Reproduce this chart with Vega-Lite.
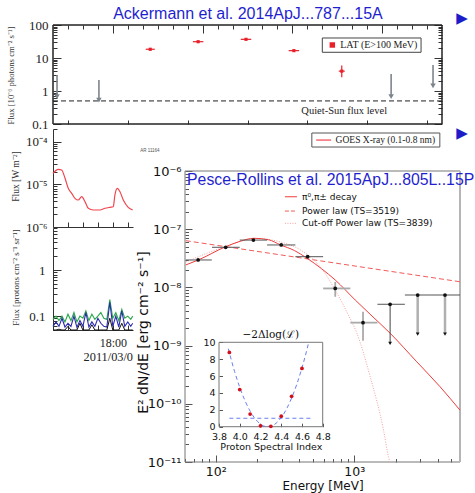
{
"$schema":"https://vega.github.io/schema/vega-lite/v6.json",
"width":475,"height":493,"autosize":"none","padding":0,"background":"white",
"config":{"view":{"stroke":null},"axis":{"grid":false,"labelFlush":false,"labelOverlap":false,"titleFontWeight":"normal"}},
"datasets":{
"one":[{}],
"lat":[{"x":20.5,"y":18.4,"xlo":20.2,"xhi":20.8,"ylo":17,"yhi":20},{"x":23.7,"y":31.2,"xlo":23.35,"xhi":24.05,"ylo":29.5,"yhi":33},{"x":26.9,"y":36.8,"xlo":26.55,"xhi":27.25,"ylo":35,"yhi":38.8},{"x":30.1,"y":16.7,"xlo":29.75,"xhi":30.45,"ylo":15.4,"yhi":18.2},{"x":33.3,"y":4.0,"xlo":33.1,"xhi":33.5,"ylo":2.6,"yhi":5.9}],
"lat_ul":[{"x":14.27,"top":3.05,"bot":0.67},{"x":17.07,"top":2.15,"bot":0.53},{"x":36.6,"top":3.3,"bot":0.67},{"x":39.4,"top":6.1,"bot":1.42}],
"goes":[{"h":14.0,"f":1.82e-5},{"h":14.35,"f":2.26e-5},{"h":14.58,"f":2.18e-5},{"h":14.8,"f":1.41e-5},{"h":15.02,"f":8.1e-6},{"h":15.25,"f":6.18e-6},{"h":15.47,"f":4.72e-6},{"h":15.69,"f":4.31e-6},{"h":15.92,"f":5.15e-6},{"h":16.14,"f":3.93e-6},{"h":16.36,"f":2.75e-6},{"h":16.69,"f":2.51e-6},{"h":17.14,"f":2.51e-6},{"h":17.48,"f":2.75e-6},{"h":17.81,"f":2.9e-6},{"h":18.03,"f":2.99e-6},{"h":18.14,"f":5.64e-6},{"h":18.3,"f":8.09e-6},{"h":18.48,"f":6.74e-6},{"h":18.7,"f":4.31e-6},{"h":19.03,"f":2.9e-6},{"h":19.33,"f":2.51e-6}],
"prot":[{"h":14.0,"g":0.085,"b":0.06,"k":0.05},{"h":14.2,"g":0.1,"b":0.075,"k":0.05},{"h":14.4,"g":0.08,"b":0.06,"k":0.052},{"h":14.6,"g":0.1,"b":0.09,"k":0.05},{"h":14.8,"g":0.075,"b":0.058,"k":0.05},{"h":15.0,"g":0.11,"b":0.07,"k":0.06},{"h":15.2,"g":0.08,"b":0.06,"k":0.05},{"h":15.4,"g":0.12,"b":0.1,"k":0.05},{"h":15.6,"g":0.075,"b":0.057,"k":0.05},{"h":15.8,"g":0.1,"b":0.08,"k":0.07},{"h":16.0,"g":0.09,"b":0.06,"k":0.05},{"h":16.2,"g":0.13,"b":0.12,"k":0.05},{"h":16.4,"g":0.08,"b":0.058,"k":0.05},{"h":16.6,"g":0.11,"b":0.075,"k":0.065},{"h":16.8,"g":0.085,"b":0.06,"k":0.05},{"h":17.0,"g":0.1,"b":0.09,"k":0.05},{"h":17.2,"g":0.12,"b":0.07,"k":0.05},{"h":17.4,"g":0.09,"b":0.06,"k":0.05},{"h":17.6,"g":0.085,"b":0.058,"k":0.05},{"h":17.8,"g":0.23,"b":0.2,"k":0.09},{"h":18.0,"g":0.09,"b":0.06,"k":0.05},{"h":18.2,"g":0.12,"b":0.1,"k":0.05},{"h":18.4,"g":0.08,"b":0.058,"k":0.05},{"h":18.6,"g":0.14,"b":0.13,"k":0.07},{"h":18.8,"g":0.09,"b":0.06,"k":0.05},{"h":19.0,"g":0.1,"b":0.075,"k":0.05},{"h":19.2,"g":0.085,"b":0.06,"k":0.05},{"h":19.33,"g":0.1,"b":0.07,"k":0.05}],
"det":[{"E":74.6,"F":2.96e-8,"Elo":60.8,"Ehi":93.7},{"E":118,"F":4.89e-8,"Elo":94,"Ehi":149},{"E":187,"F":6.5e-8,"Elo":149,"Ehi":235},{"E":297,"F":5.36e-8,"Elo":235,"Ehi":376},{"E":461,"F":3.37e-8,"Elo":376,"Ehi":596}],
"weak":[{"E":729,"F":9.6e-9,"Elo":596,"Ehi":937,"Flo":6.9e-9,"Fhi":1.24e-8},{"E":1157,"F":2.48e-9,"Elo":937,"Ehi":1470,"Flo":1.21e-9,"Fhi":3.82e-9}],
"ul8":[{"E":1815,"F":5.13e-9,"Elo":1470,"Ehi":2320,"Fl":1.09e-9}],
"ul":[{"E":2870,"F":7.4e-9,"Elo":2320,"Ehi":3640,"Fl":1.58e-9},{"E":4520,"F":7.4e-9,"Elo":3640,"Ehi":5800,"Fl":1.58e-9}],
"pi":[{"E":60.8,"F":2.43e-8},{"E":74.6,"F":2.95e-8},{"E":118,"F":5.0e-8},{"E":150,"F":6.2e-8},{"E":189,"F":6.98e-8},{"E":240,"F":6.6e-8},{"E":294,"F":5.36e-8},{"E":370,"F":4.3e-8},{"E":457,"F":3.16e-8},{"E":580,"F":2.1e-8},{"E":729,"F":1.34e-8},{"E":1016,"F":6.08e-9},{"E":1300,"F":3.47e-9},{"E":1816,"F":1.63e-9},{"E":2825,"F":5.28e-10},{"E":4159,"F":1.97e-10},{"E":5794,"F":7.8e-11}],
"pl":[{"E":60.8,"F":6.35e-8},{"E":5800,"F":1.25e-8}],
"cpl":[{"E":60.8,"F":2.73e-8},{"E":118,"F":5.05e-8},{"E":194,"F":6.92e-8},{"E":294,"F":6.03e-8},{"E":409,"F":4.4e-8},{"E":569,"F":2.24e-8},{"E":752,"F":7.9e-9},{"E":906,"F":3.36e-9},{"E":1045,"F":1.63e-9},{"E":1303,"F":2.92e-10},{"E":1626,"F":3.55e-11},{"E":1766,"F":1.23e-11},{"E":1806,"F":1e-11}],
"lik":[{"p":3.9,"v":8.8},{"p":4.0,"v":4.4},{"p":4.1,"v":1.5},{"p":4.2,"v":0.1},{"p":4.3,"v":0.05},{"p":4.4,"v":1.25},{"p":4.5,"v":3.6},{"p":4.6,"v":6.9}],
"par":[{"p":3.89,"v":9.24},{"p":3.95,"v":6.55},{"p":4.0,"v":4.67},{"p":4.05,"v":3.1},{"p":4.1,"v":1.85},{"p":4.15,"v":0.92},{"p":4.2,"v":0.31},{"p":4.25,"v":0.03},{"p":4.3,"v":0.06},{"p":4.35,"v":0.41},{"p":4.4,"v":1.08},{"p":4.45,"v":2.07},{"p":4.5,"v":3.39},{"p":4.55,"v":5.02},{"p":4.6,"v":6.97},{"p":4.65,"v":9.24},{"p":4.665,"v":10.0}]
},
"resolve":{"scale":{"x":"independent","y":"independent"}},
"layer":[
{"data":{"name":"one"},"layer":[
 {"mark":{"type":"rect","fill":"transparent","stroke":"#222","strokeWidth":1},
  "encoding":{
   "x":{"datum":14,"type":"quantitative","scale":{"domain":[14,40],"range":[53,442],"nice":false,"zero":false},
        "axis":{"orient":"bottom","offset":-369,"values":[15,16,17,18,19,20,21,22,23,24,25,26,27,28,29,30,31,32,33,34,35,36,37,38,39],"labels":false,"domain":false,"tickColor":"#333","tickSize":{"condition":{"test":"datum.value % 6 == 0","value":-8},"value":-4},"title":null}},
   "x2":{"datum":40},
   "y":{"datum":0.1,"type":"quantitative","scale":{"type":"log","domain":[0.1,100],"range":[124,25],"nice":false},
        "axis":{"orient":"left","offset":-53,"values":[0.1,0.2,0.3,0.4,0.5,0.6,0.7,0.8,0.9,1,2,3,4,5,6,7,8,9,10,20,30,40,50,60,70,80,90,100],
        "labelExpr":"datum.value==0.1?'0.1':datum.value==1?'1':datum.value==10?'10':datum.value==100?'100':''",
        "tickSize":{"condition":{"test":"indexof([0.1,1,10,100],datum.value)>=0","value":-8},"value":-4},
        "domain":false,"tickColor":"#333","labelFont":"Liberation Serif","labelFontSize":13,"labelColor":"#222","labelPadding":13,
        "title":"Flux [10⁻⁶ photons cm⁻² s⁻¹]","titleFont":"Liberation Serif","titleFontSize":8.7,"titleColor":"#333","titleX":-43,"titleY":75,"titleBaseline":"middle","titleAlign":"center"}},
   "y2":{"datum":100}}},
 {"mark":{"type":"rule","stroke":"#222","strokeDash":[5,3],"strokeWidth":1},
  "encoding":{"x":{"datum":14,"type":"quantitative"},"x2":{"datum":40},"y":{"datum":0.5,"type":"quantitative"}}},
 {"data":{"name":"lat_ul"},"mark":{"type":"rule","stroke":"#7d858c","strokeWidth":1.6},
  "encoding":{"x":{"field":"x","type":"quantitative"},"y":{"field":"top","type":"quantitative"},"y2":{"field":"bot"}}},
 {"data":{"name":"lat_ul"},"mark":{"type":"point","shape":"triangle-down","filled":true,"color":"#7d858c","size":30,"opacity":1},
  "encoding":{"x":{"field":"x","type":"quantitative"},"y":{"field":"bot","type":"quantitative"}}},
 {"data":{"name":"lat"},"mark":{"type":"rule","stroke":"#e8202a","strokeWidth":1.2},
  "encoding":{"x":{"field":"xlo","type":"quantitative"},"x2":{"field":"xhi"},"y":{"field":"y","type":"quantitative"}}},
 {"data":{"name":"lat"},"mark":{"type":"rule","stroke":"#e8202a","strokeWidth":1.2},
  "encoding":{"x":{"field":"x","type":"quantitative"},"y":{"field":"ylo","type":"quantitative"},"y2":{"field":"yhi"}}},
 {"data":{"name":"lat"},"mark":{"type":"square","color":"#e8202a","size":10,"opacity":1},
  "encoding":{"x":{"field":"x","type":"quantitative"},"y":{"field":"y","type":"quantitative"}}},
 {"mark":{"type":"rect","fill":"white","stroke":"#444","strokeWidth":1},
  "encoding":{"x":{"datum":32.0,"type":"quantitative"},"x2":{"datum":38.6},"y":{"datum":14.9,"type":"quantitative"},"y2":{"datum":40.4}}},
 {"mark":{"type":"square","color":"#e8202a","size":30,"opacity":1},
  "encoding":{"x":{"datum":32.67,"type":"quantitative"},"y":{"datum":24.8,"type":"quantitative"}}},
 {"mark":{"type":"text","text":"LAT (E>100 MeV)","align":"left","baseline":"middle","font":"Liberation Serif","fontSize":10,"color":"#222"},
  "encoding":{"x":{"datum":33.2,"type":"quantitative"},"y":{"datum":24.8,"type":"quantitative"}}},
 {"mark":{"type":"text","text":"Quiet-Sun flux level","align":"left","baseline":"middle","font":"Liberation Serif","fontSize":10.5,"color":"#222"},
  "encoding":{"x":{"datum":30.6,"type":"quantitative"},"y":{"datum":0.25,"type":"quantitative"}}},
 {"mark":{"type":"text","text":"Ackermann et al. 2014ApJ...787...15A","align":"center","baseline":"middle","font":"Liberation Sans","fontSize":16,"color":"#1f1fd0"},
  "encoding":{"x":{"datum":27.03,"type":"quantitative"},"y":{"datum":215,"type":"quantitative"}}},
 {"mark":{"type":"text","text":"▶","align":"center","baseline":"middle","font":"DejaVu Sans","fontSize":15,"color":"#1c1cc8"},
  "encoding":{"x":{"datum":41.34,"type":"quantitative"},"y":{"datum":163,"type":"quantitative"}}},
 {"mark":{"type":"text","text":"▶","align":"center","baseline":"middle","font":"DejaVu Sans","fontSize":15,"color":"#1c1cc8"},
  "encoding":{"x":{"datum":41.34,"type":"quantitative"},"y":{"datum":0.0533,"type":"quantitative"}}}
]},
{"data":{"name":"one"},"layer":[
 {"mark":{"type":"rect","fill":"transparent","stroke":"#222","strokeWidth":1},
  "encoding":{
   "x":{"datum":14,"type":"quantitative","scale":{"domain":[14,40],"range":[53,442],"nice":false,"zero":false},
        "axis":{"orient":"top","offset":-25,"values":[15,16,17,18,19,20,21,22,23,24,25,26,27,28,29,30,31,32,33,34,35,36,37,38,39],"labels":false,"domain":false,"tickColor":"#333","tickSize":{"condition":{"test":"datum.value % 6 == 0","value":-8},"value":-4},"title":null}},
   "x2":{"datum":40},
   "y":{"datum":0.1,"type":"quantitative","scale":{"type":"log","domain":[0.1,100],"range":[124,25],"nice":false},
        "axis":{"orient":"right","offset":-33,"values":[0.1,0.2,0.3,0.4,0.5,0.6,0.7,0.8,0.9,1,2,3,4,5,6,7,8,9,10,20,30,40,50,60,70,80,90,100],"labels":false,
        "tickSize":{"condition":{"test":"indexof([0.1,1,10,100],datum.value)>=0","value":-8},"value":-4},
        "domain":false,"tickColor":"#333","title":null}},
   "y2":{"datum":100}}}
]},
{"data":{"name":"goes"},"layer":[
 {"mark":{"type":"line","stroke":"#f0454f","strokeWidth":1.2,"interpolate":"monotone"},
  "encoding":{
   "x":{"field":"h","type":"quantitative","scale":{"domain":[14,19.35],"range":[53,133],"nice":false,"zero":false},
        "axis":{"orient":"bottom","offset":-266,"values":[15,16,17,18,19],"labels":false,"tickSize":-5,"tickColor":"#333","domainColor":"#333","title":null}},
   "y":{"field":"f","type":"quantitative","scale":{"type":"log","domain":[1e-6,2e-4],"range":[227,129],"nice":false},
        "axis":{"orient":"left","offset":-53,"values":[1e-6,2e-6,3e-6,4e-6,5e-6,6e-6,7e-6,8e-6,9e-6,1e-5,2e-5,3e-5,4e-5,5e-5,6e-5,7e-5,8e-5,9e-5,1e-4,2e-4],
        "labelExpr":"datum.value==1e-6?'10⁻⁶':datum.value==1e-5?'10⁻⁵':datum.value==1e-4?'10⁻⁴':''",
        "tickSize":{"condition":{"test":"indexof([1e-6,1e-5,1e-4],datum.value)>=0","value":-8},"value":-4},
        "domainColor":"#333","tickColor":"#333","labelFont":"Liberation Serif","labelFontSize":13,"labelColor":"#222","labelPadding":14,
        "title":"Flux [W m⁻²]","titleFont":"Liberation Serif","titleFontSize":9.5,"titleColor":"#333","titleX":-38,"titleY":176,"titleBaseline":"middle","titleAlign":"center"}}}},
 {"data":{"name":"one"},"mark":{"type":"rect","fill":"white","stroke":"#555","strokeWidth":1},
  "encoding":{"x":{"datum":31.31,"type":"quantitative"},"x2":{"datum":39.87},"y":{"datum":7.55e-5,"type":"quantitative"},"y2":{"datum":1.61e-4}}},
 {"data":{"name":"one"},"mark":{"type":"rule","stroke":"#f0454f","strokeWidth":1.2},
  "encoding":{"x":{"datum":31.6,"type":"quantitative"},"x2":{"datum":32.6},"y":{"datum":1.1e-4,"type":"quantitative"}}},
 {"data":{"name":"one"},"mark":{"type":"text","text":"GOES X-ray (0.1-0.8 nm)","align":"left","baseline":"middle","font":"Liberation Serif","fontSize":9.5,"color":"#222"},
  "encoding":{"x":{"datum":32.9,"type":"quantitative"},"y":{"datum":1.1e-4,"type":"quantitative"}}},
 {"data":{"name":"one"},"mark":{"type":"text","text":"AR 11164","align":"center","baseline":"middle","font":"Liberation Sans","fontSize":4.5,"color":"#555"},
  "encoding":{"x":{"datum":20.48,"type":"quantitative"},"y":{"datum":6.08e-5,"type":"quantitative"}}}
]},
{"data":{"name":"prot"},"layer":[
 {"mark":{"type":"line","stroke":"#2aa84a","strokeWidth":1.1},
  "encoding":{
   "x":{"field":"h","type":"quantitative","scale":{"domain":[14,19.35],"range":[53,133],"nice":false,"zero":false},
        "axis":{"orient":"bottom","offset":-163,"values":[15,16,17,18,19],"labelExpr":"datum.value==18?'18:00':''","tickSize":-5,"labelPadding":12,"tickColor":"#333","domainColor":"#333","labelFont":"Liberation Serif","labelFontSize":12,"labelColor":"#222","title":null}},
   "y":{"field":"g","type":"quantitative","scale":{"type":"log","domain":[0.05,8.2],"range":[330,228],"nice":false},
        "axis":{"orient":"left","offset":-53,"values":[0.05,0.06,0.07,0.08,0.09,0.1,0.2,0.3,0.4,0.5,0.6,0.7,0.8,0.9,1,2,3,4,5,6,7,8],
        "labelExpr":"datum.value==0.1?'0.1':datum.value==1?'1':''",
        "tickSize":{"condition":{"test":"indexof([0.1,1],datum.value)>=0","value":-8},"value":-4},
        "domainColor":"#333","tickColor":"#333","labelFont":"Liberation Serif","labelFontSize":13,"labelColor":"#222","labelPadding":16,
        "title":"Flux [protons cm⁻² s⁻¹ sr⁻¹]","titleFont":"Liberation Serif","titleFontSize":9,"titleColor":"#333","titleX":-38,"titleY":277,"titleBaseline":"middle","titleAlign":"center"}}}},
 {"mark":{"type":"line","stroke":"#2b2bb0","strokeWidth":1.1},
  "encoding":{"x":{"field":"h","type":"quantitative"},"y":{"field":"b","type":"quantitative"}}},
 {"mark":{"type":"line","stroke":"#111","strokeWidth":1},
  "encoding":{"x":{"field":"h","type":"quantitative"},"y":{"field":"k","type":"quantitative"}}},
 {"data":{"name":"one"},"mark":{"type":"text","text":"2011/03/0","align":"right","baseline":"middle","font":"Liberation Serif","fontSize":12.3,"color":"#222"},
  "encoding":{"x":{"datum":19.35,"type":"quantitative"},"y":{"datum":0.0129,"type":"quantitative"}}}
]},
{"data":{"name":"one"},"layer":[
 {"mark":{"type":"rect","fill":"transparent","stroke":"#777","strokeWidth":1},
  "encoding":{
   "x":{"datum":60,"type":"quantitative","scale":{"type":"log","domain":[60,5800],"range":[185,460],"nice":false},
        "axis":{"orient":"bottom","offset":-31,"values":[60,70,80,90,100,200,300,400,500,600,700,800,900,1000,2000,3000,4000,5000],
        "labelExpr":"datum.value==100?'10²':datum.value==1000?'10³':''",
        "tickSize":{"condition":{"test":"datum.value==100||datum.value==1000","value":-7},"value":-3.5},
        "domain":false,"tickColor":"#555","labelFont":"DejaVu Sans","labelFontSize":12.5,"labelColor":"#111","labelPadding":10,
        "title":"Energy [MeV]","titleFont":"DejaVu Sans","titleFontSize":12,"titleColor":"#111","titleY":23,"titleBaseline":"middle"}},
   "x2":{"datum":5800},
   "y":{"datum":1e-11,"type":"quantitative","scale":{"type":"log","domain":[1e-11,1e-6],"range":[462,171],"nice":false},
        "axis":{"orient":"left","offset":-185,"values":[1e-11,2e-11,3e-11,4e-11,5e-11,6e-11,7e-11,8e-11,9e-11,1e-10,2e-10,3e-10,4e-10,5e-10,6e-10,7e-10,8e-10,9e-10,1e-9,2e-9,3e-9,4e-9,5e-9,6e-9,7e-9,8e-9,9e-9,1e-8,2e-8,3e-8,4e-8,5e-8,6e-8,7e-8,8e-8,9e-8,1e-7,2e-7,3e-7,4e-7,5e-7,6e-7,7e-7,8e-7,9e-7,1e-6],
        "labelExpr":"datum.value==1e-6?'10⁻⁶':datum.value==1e-7?'10⁻⁷':datum.value==1e-8?'10⁻⁸':datum.value==1e-9?'10⁻⁹':datum.value==1e-10?'10⁻¹⁰':datum.value==1e-11?'10⁻¹¹':''",
        "tickSize":{"condition":{"test":"indexof([1e-11,1e-10,1e-9,1e-8,1e-7,1e-6],datum.value)>=0","value":-7},"value":-3.5},
        "domain":false,"tickColor":"#555","labelFont":"DejaVu Sans","labelFontSize":13,"labelColor":"#111","labelPadding":11,
        "title":"E² dN/dE [erg cm⁻² s⁻¹]","titleFont":"DejaVu Sans","titleFontSize":14,"titleColor":"#111","titleX":-42,"titleY":332,"titleBaseline":"middle","titleAlign":"center"}},
   "y2":{"datum":1e-6}}},
 {"mark":{"type":"rule","stroke":"#b5b5b5","strokeWidth":2},
  "encoding":{"x":{"datum":5800,"type":"quantitative"},"y":{"datum":1e-11,"type":"quantitative"},"y2":{"datum":1e-6}}},
 {"data":{"name":"pl"},"mark":{"type":"line","stroke":"#f25a5a","strokeWidth":1,"strokeDash":[5,3]},
  "encoding":{"x":{"field":"E","type":"quantitative"},"y":{"field":"F","type":"quantitative"}}},
 {"data":{"name":"cpl"},"mark":{"type":"line","stroke":"#f7a0a0","strokeWidth":1,"strokeDash":[1,1.5],"interpolate":"monotone"},
  "encoding":{"x":{"field":"E","type":"quantitative"},"y":{"field":"F","type":"quantitative"}}},
 {"data":{"name":"pi"},"mark":{"type":"line","stroke":"#f03c3c","strokeWidth":1,"interpolate":"monotone"},
  "encoding":{"x":{"field":"E","type":"quantitative"},"y":{"field":"F","type":"quantitative"}}},
 {"data":{"name":"weak"},"mark":{"type":"rule","stroke":"#aaa","strokeWidth":1.8},
  "encoding":{"x":{"field":"Elo","type":"quantitative"},"x2":{"field":"Ehi"},"y":{"field":"F","type":"quantitative"}}},
 {"data":{"name":"weak"},"mark":{"type":"rule","stroke":"#aaa","strokeWidth":1.8},
  "encoding":{"x":{"field":"E","type":"quantitative"},"y":{"field":"Flo","type":"quantitative"},"y2":{"field":"Fhi"}}},
 {"data":{"name":"ul"},"mark":{"type":"rule","stroke":"#b0b0b0","strokeWidth":2.5},
  "encoding":{"x":{"field":"E","type":"quantitative"},"y":{"field":"F","type":"quantitative"},"y2":{"field":"Fl"}}},
 {"data":{"name":"ul8"},"mark":{"type":"rule","stroke":"#444","strokeWidth":1},
  "encoding":{"x":{"field":"E","type":"quantitative"},"y":{"field":"F","type":"quantitative"},"y2":{"field":"Fl"}}},
 {"data":{"name":"det"},"mark":{"type":"rule","stroke":"#555","strokeWidth":1},
  "encoding":{"x":{"field":"Elo","type":"quantitative"},"x2":{"field":"Ehi"},"y":{"field":"F","type":"quantitative"}}},
 {"data":{"name":"ul8"},"mark":{"type":"rule","stroke":"#555","strokeWidth":1},
  "encoding":{"x":{"field":"Elo","type":"quantitative"},"x2":{"field":"Ehi"},"y":{"field":"F","type":"quantitative"}}},
 {"data":{"name":"ul"},"mark":{"type":"rule","stroke":"#555","strokeWidth":1},
  "encoding":{"x":{"field":"Elo","type":"quantitative"},"x2":{"field":"Ehi"},"y":{"field":"F","type":"quantitative"}}},
 {"data":{"name":"ul"},"mark":{"type":"point","shape":"triangle-down","filled":true,"color":"#111","size":14,"opacity":1},
  "encoding":{"x":{"field":"E","type":"quantitative"},"y":{"field":"Fl","type":"quantitative"}}},
 {"data":{"name":"ul8"},"mark":{"type":"point","shape":"triangle-down","filled":true,"color":"#111","size":14,"opacity":1},
  "encoding":{"x":{"field":"E","type":"quantitative"},"y":{"field":"Fl","type":"quantitative"}}},
 {"data":{"name":"det"},"mark":{"type":"circle","color":"#111","size":14,"opacity":1},
  "encoding":{"x":{"field":"E","type":"quantitative"},"y":{"field":"F","type":"quantitative"}}},
 {"data":{"name":"weak"},"mark":{"type":"circle","color":"#111","size":14,"opacity":1},
  "encoding":{"x":{"field":"E","type":"quantitative"},"y":{"field":"F","type":"quantitative"}}},
 {"data":{"name":"ul8"},"mark":{"type":"circle","color":"#111","size":14,"opacity":1},
  "encoding":{"x":{"field":"E","type":"quantitative"},"y":{"field":"F","type":"quantitative"}}},
 {"data":{"name":"ul"},"mark":{"type":"circle","color":"#111","size":14,"opacity":1},
  "encoding":{"x":{"field":"E","type":"quantitative"},"y":{"field":"F","type":"quantitative"}}},
 {"mark":{"type":"rule","stroke":"#f03c3c","strokeWidth":1},
  "encoding":{"x":{"datum":316,"type":"quantitative"},"x2":{"datum":386},"y":{"datum":3.61e-7,"type":"quantitative"}}},
 {"mark":{"type":"rule","stroke":"#f25a5a","strokeWidth":1,"strokeDash":[4,2]},
  "encoding":{"x":{"datum":316,"type":"quantitative"},"x2":{"datum":386},"y":{"datum":2.05e-7,"type":"quantitative"}}},
 {"mark":{"type":"rule","stroke":"#f7a0a0","strokeWidth":1,"strokeDash":[1,1.5]},
  "encoding":{"x":{"datum":316,"type":"quantitative"},"x2":{"datum":386},"y":{"datum":1.26e-7,"type":"quantitative"}}},
 {"mark":{"type":"text","text":"π⁰,π± decay","align":"left","baseline":"middle","font":"DejaVu Sans","fontSize":9,"color":"#111"},
  "encoding":{"x":{"datum":420,"type":"quantitative"},"y":{"datum":3.61e-7,"type":"quantitative"}}},
 {"mark":{"type":"text","text":"Power law (TS=3519)","align":"left","baseline":"middle","font":"DejaVu Sans","fontSize":9,"color":"#111"},
  "encoding":{"x":{"datum":420,"type":"quantitative"},"y":{"datum":2.05e-7,"type":"quantitative"}}},
 {"mark":{"type":"text","text":"Cut-off Power law (TS=3839)","align":"left","baseline":"middle","font":"DejaVu Sans","fontSize":9,"color":"#111"},
  "encoding":{"x":{"datum":420,"type":"quantitative"},"y":{"datum":1.26e-7,"type":"quantitative"}}},
 {"mark":{"type":"text","text":"Pesce-Rollins et al. 2015ApJ...805L..15P","align":"left","baseline":"middle","font":"Liberation Sans","fontSize":15.8,"color":"#1f1fd0"},
  "encoding":{"x":{"datum":62.1,"type":"quantitative"},"y":{"datum":7.0e-7,"type":"quantitative"}}}
]},
{"data":{"name":"one"},"layer":[
 {"mark":{"type":"rect","fill":"transparent","stroke":"#777","strokeWidth":1},
  "encoding":{
   "x":{"datum":3.8,"type":"quantitative","scale":{"domain":[3.8,4.8],"range":[219,322.7],"nice":false,"zero":false},
        "axis":{"orient":"bottom","offset":-66.3,"values":[3.8,4.0,4.2,4.4,4.6,4.8],"format":".1f","tickSize":-3.5,"domain":false,"tickColor":"#555","labelFont":"DejaVu Sans","labelFontSize":9.5,"labelColor":"#111","labelPadding":8.5,
        "title":"Proton Spectral Index","titleFont":"DejaVu Sans","titleFontSize":9.5,"titleColor":"#111","titleY":20,"titleBaseline":"middle"}},
   "x2":{"datum":4.8},
   "y":{"datum":0,"type":"quantitative","scale":{"domain":[0,10],"range":[426.7,342.3],"nice":false,"zero":false},
        "axis":{"orient":"left","offset":-219,"values":[0,2,4,6,8,10],"tickSize":-3.5,"domain":false,"tickColor":"#555","labelFont":"DejaVu Sans","labelFontSize":9.5,"labelColor":"#111","labelPadding":7.5,"title":null}},
   "y2":{"datum":10}}},
 {"mark":{"type":"rule","stroke":"#6a7ff0","strokeWidth":1,"strokeDash":[4,3]},
  "encoding":{"x":{"datum":3.9,"type":"quantitative"},"x2":{"datum":4.7},"y":{"datum":1,"type":"quantitative"}}},
 {"data":{"name":"par"},"mark":{"type":"line","stroke":"#6a7ff0","strokeWidth":1,"strokeDash":[4,3],"interpolate":"monotone"},
  "encoding":{"x":{"field":"p","type":"quantitative"},"y":{"field":"v","type":"quantitative"}}},
 {"data":{"name":"lik"},"mark":{"type":"circle","color":"#d0101a","size":14,"opacity":1},
  "encoding":{"x":{"field":"p","type":"quantitative"},"y":{"field":"v","type":"quantitative"}}},
 {"mark":{"type":"text","text":"−2Δlog(ℒ)","align":"center","baseline":"bottom","font":"DejaVu Serif","fontSize":10.5,"color":"#111","dy":-2},
  "encoding":{"x":{"datum":4.3,"type":"quantitative"},"y":{"datum":10,"type":"quantitative"}}}
]}
]
}
